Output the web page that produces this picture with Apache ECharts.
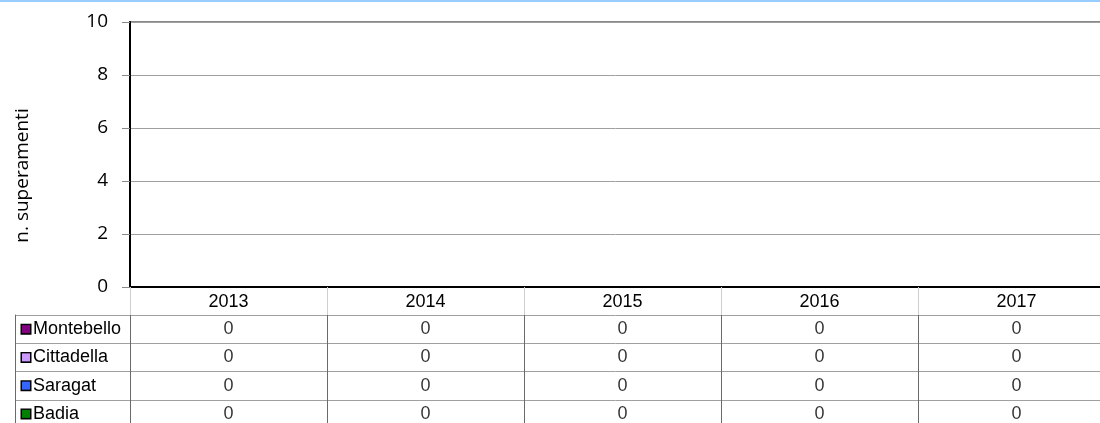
<!DOCTYPE html>
<html>
<head>
<meta charset="utf-8">
<script src="https://cdn.jsdelivr.net/npm/echarts@6/dist/echarts.min.js"></script>
<style>
html,body{margin:0;padding:0;background:#fff;}
#c{width:1100px;height:423px;}
</style>
</head>
<body>
<div id="c"></div>
<script>
// ---- data ----
const years = ['2013', '2014', '2015', '2016', '2017'];
const seriesNames = ['Montebello', 'Cittadella', 'Saragat', 'Badia'];
const montebello = [0, 0, 0, 0, 0];
const cittadella = [0, 0, 0, 0, 0];
const saragat = [0, 0, 0, 0, 0];
const badia = [0, 0, 0, 0, 0];
const seriesColors = ['#800080', '#CC99FF', '#3366FF', '#008000'];
const yMin = 0, yMax = 10, yStep = 2;
const yAxisTitle = 'n. superamenti';

const seriesValues = [montebello, cittadella, saragat, badia];

const TABLE_FONT = "'Liberation Sans', Arial, sans-serif";
const AXIS_FONT = "'Open Sans', 'Noto Sans', sans-serif";

// table cells: [year, name, value]
const tableData = [];
seriesNames.forEach((n, r) => {
  years.forEach((y, i) => tableData.push([y, n, seriesValues[r][i]]));
});

const rich = { t: { fontSize: 18, fontFamily: TABLE_FONT, color: '#000', padding: [0, 0, 0, 3] } };
seriesNames.forEach((n, i) => {
  rich['sq' + i] = { width: 8, height: 8, backgroundColor: seriesColors[i], borderColor: '#000', borderWidth: 1.5 };
});

const chart = echarts.init(document.getElementById('c'), null, { renderer: 'canvas' });
chart.setOption({
  animation: false,
  backgroundColor: '#fff',
  graphic: [{
    type: 'rect', left: 0, top: 0, silent: true,
    shape: { width: 1100, height: 2 },
    style: { fill: '#99CCFF' }
  }],
  grid: [
    { left: 130, right: -15, top: 22, bottom: 136, show: true, borderColor: '#888', borderWidth: 2, backgroundColor: 'transparent', outerBoundsMode: 'none', containLabel: false },
    { left: 130, right: -15, top: 315, height: 113, outerBoundsMode: 'none', containLabel: false },
    { left: 15, width: 115, top: 315, height: 113, outerBoundsMode: 'none', containLabel: false }
  ],
  xAxis: [
    {
      gridIndex: 0, type: 'category', data: years, boundaryGap: true,
      axisLine: { show: true, lineStyle: { color: '#000', width: 2 } },
      axisTick: { show: true, alignWithLabel: false, interval: 0, length: 28, lineStyle: { color: '#cfcfcf', width: 1 } },
      axisLabel: { interval: 0, margin: 6, fontSize: 18, fontFamily: TABLE_FONT, color: '#000' },
      splitLine: { show: false }
    },
    {
      gridIndex: 1, type: 'category', data: years, boundaryGap: true,
      axisLine: { show: false }, axisTick: { show: false }, axisLabel: { show: false },
      splitLine: { show: true, interval: 0, lineStyle: { color: '#6a6a6a', width: 1 } }
    },
    { gridIndex: 2, type: 'value', show: false }
  ],
  yAxis: [
    {
      gridIndex: 0, type: 'value', min: yMin, max: yMax, interval: yStep,
      name: yAxisTitle, nameLocation: 'middle', nameGap: 98, nameRotate: 90,
      nameTextStyle: { fontSize: 19, fontFamily: AXIS_FONT, color: '#000', padding: [0, 42, 0, 0] },
      axisLine: { show: true, lineStyle: { color: '#000', width: 2 } },
      axisTick: { show: true, length: 8, lineStyle: { color: '#888', width: 1 } },
      axisLabel: { margin: 22, fontSize: 19, fontFamily: AXIS_FONT, color: '#000' },
      splitLine: { show: true, lineStyle: { color: '#a0a0a0', width: 1 } }
    },
    {
      gridIndex: 1, type: 'category', data: seriesNames, inverse: true,
      axisLine: { show: false }, axisTick: { show: false }, axisLabel: { show: false },
      splitLine: { show: true, interval: 0, lineStyle: { color: '#a0a0a0', width: 1 } }
    },
    {
      gridIndex: 2, type: 'category', data: seriesNames, inverse: true,
      axisLine: { show: true, lineStyle: { color: '#6a6a6a', width: 1 } },
      axisTick: { show: false },
      axisLabel: {
        show: true, inside: true, margin: 7, interval: 0,
        formatter: (v) => '{sq' + seriesNames.indexOf(v) + '|}{t|' + v + '}',
        rich: rich
      },
      splitLine: { show: true, interval: 0, lineStyle: { color: '#a0a0a0', width: 1 } }
    }
  ],
  series: seriesNames.map((n, i) => ({
    name: n, type: 'bar', xAxisIndex: 0, yAxisIndex: 0,
    data: seriesValues[i], itemStyle: { color: seriesColors[i] }
  })).concat([{
    type: 'scatter', xAxisIndex: 1, yAxisIndex: 1,
    data: tableData, encode: { x: 0, y: 1 },
    symbolSize: 1, itemStyle: { color: 'rgba(0,0,0,0)' },
    label: {
      show: true, position: 'inside',
      formatter: (p) => String(p.value[2]),
      fontSize: 18, fontFamily: TABLE_FONT, color: '#000'
    }
  }])
});
</script>
</body>
</html>
